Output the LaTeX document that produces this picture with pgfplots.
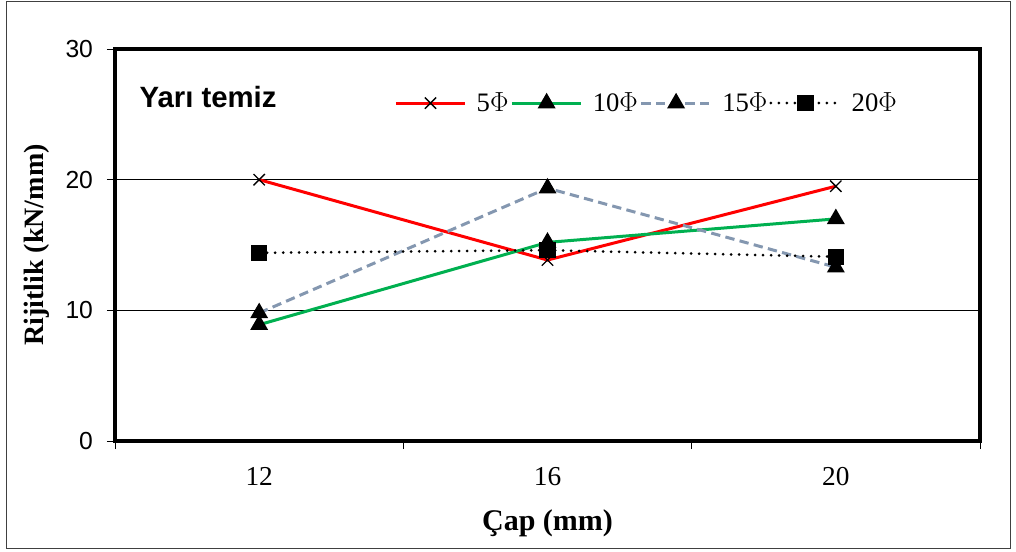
\documentclass[border=0pt]{standalone}
\usepackage{fontspec}
\setmainfont{Liberation Serif}
\newfontfamily\arial{Liberation Sans}
\usepackage{pgfplots}
\pgfplotsset{compat=1.18}
\definecolor{exred}{RGB}{255,0,0}
\definecolor{exgreen}{RGB}{0,176,80}
\definecolor{exgray}{RGB}{132,151,176}
\begin{document}
\begin{tikzpicture}
\useasboundingbox (-86.25pt,-82.5pt) rectangle (675.75pt,330.75pt);
\draw[black!75, line width=0.75pt] (-81pt,-80.25pt) rectangle (671.25pt,329.25pt);
\begin{axis}[
  scale only axis,
  width=648.75pt, height=294pt,
  xmin=-0.5, xmax=2.5,
  ymin=0, ymax=30,
  ytick={0,10,20,30},
  xtick={-0.5,0.5,1.5,2.5}, xticklabels={,,,},
  extra x ticks={0,1,2},
  extra x tick labels={12,16,20},
  extra x tick style={major tick length=0pt},
  tick align=outside, xtick pos=bottom, ytick pos=left,
  major tick length=6pt,
  /pgf/number format/assume math mode=true,
  ymajorgrids, grid style={black, line width=0.7pt},
  axis line style={line width=3pt},
  tick style={black, line width=0.6pt},
  yticklabel style={font=\arial\fontsize{18.5}{20}\selectfont, xshift=-7pt},
  xticklabel style={font=\fontsize{20.5}{22}\selectfont, yshift=-16pt},
  xlabel={\textbf{Çap (mm)}},
  ylabel={\textbf{Rijitlik (kN/mm)}},
  every axis x label/.style={at={(axis description cs:0.5,-0.21)}, anchor=center, font=\fontsize{22.5}{25}\selectfont},
  every axis y label/.style={at={(axis description cs:-0.09,0.5)}, rotate=90, anchor=center, font=\fontsize{21}{24}\selectfont},
  legend style={draw=none, fill=none, at={(axis description cs:0.318,0.862)}, anchor=west,
    font=\fontsize{20}{22}\selectfont, legend columns=4,
    nodes={inner xsep=1.5pt},
    /tikz/every odd column/.append style={column sep=6pt}},
  legend image code/.code={\draw[mark repeat=2,mark phase=2] plot coordinates {(0pt,0pt)(26pt,0pt)(52pt,0pt)};},
  clip=false,
]
\addplot[exred, line width=2.25pt, mark=x, mark size=6pt, mark options={black, solid, line width=1pt}]
  coordinates {(0,20.0) (1,13.85) (2,19.5)};
\addplot[exgreen, line width=2.25pt, mark=triangle*, mark size=5.5pt, mark options={black, solid}]
  coordinates {(0,8.9) (1,15.2) (2,17.0)};
\addplot[exgray, line width=2.25pt, dash pattern=on 7pt off 4pt, mark=triangle*, mark size=5.5pt, mark options={black, solid}]
  coordinates {(0,9.8) (1,19.35) (2,13.3)};
\addplot[black, line width=2.25pt, dash pattern=on 0pt off 6pt, line cap=round, mark=square*, mark size=5pt, mark options={black, solid, line cap=butt}]
  coordinates {(0,14.4) (1,14.6) (2,14.1)};
\legend{5$\Phi$,10$\Phi$,15$\Phi$,20$\Phi$}
\node[anchor=west, font=\arial\bfseries\fontsize{22}{26}\selectfont] at (axis description cs:0.023,0.878) {Yarı temiz};
\end{axis}
\end{tikzpicture}
\end{document}
